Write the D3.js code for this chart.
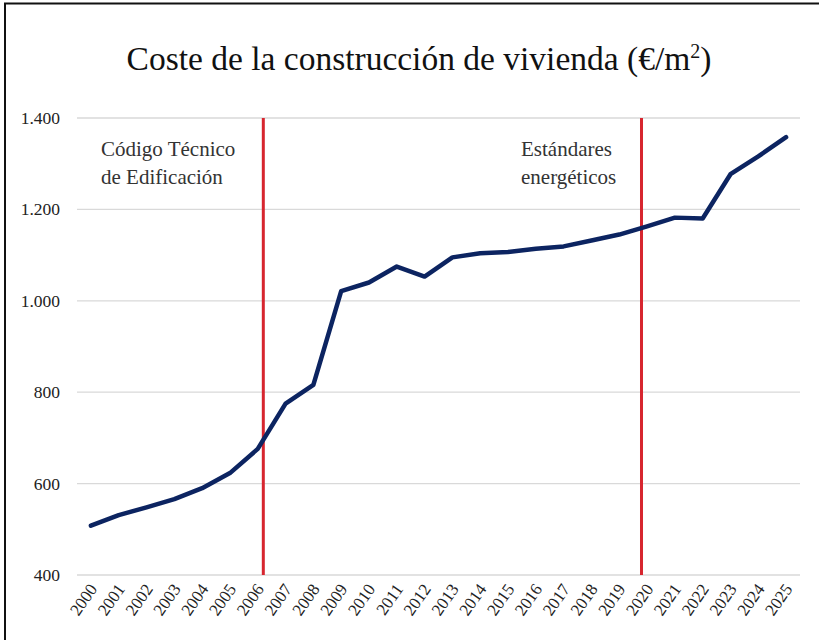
<!DOCTYPE html>
<html><head><meta charset="utf-8">
<script src="https://cdn.jsdelivr.net/npm/d3@7"></script>
<style>body{margin:0;background:#fff}svg{display:block}</style>
</head><body>
<svg id="c" width="819" height="640"></svg>
<script>
const years = ["2000","2001","2002","2003","2004","2005","2006","2007","2008","2009","2010","2011","2012","2013","2014","2015","2016","2017","2018","2019","2020","2021","2022","2023","2024","2025"];
const costs = [508,531,548,566,590,623,676,775,816,1021,1040,1075,1053,1095,1104,1107,1114,1119,1132,1145,1163,1182,1180,1277,1316,1358];
const yTicks = [400,600,800,1000,1200,1400];
const markers = [{pos:6.2, label:["Código Técnico","de Edificación"]},{pos:19.8, label:["Estándares","energéticos"]}];
const title = "Coste de la construcción de vivienda (€/m";

const svg = d3.select("#c");
const font = "'Liberation Serif', 'DejaVu Serif', serif";
const L = 77, R = 800, T = 118, B = 575;

svg.append("rect").attr("x",5).attr("y",3.5).attr("width",900).attr("height",700)
  .attr("fill","none").attr("stroke","#111").attr("stroke-width",2);

const x = d3.scaleBand().domain(years).range([L,R]);
const y = d3.scaleLinear().domain([400,1400]).range([B,T]);
const xc = i => L + (i + 0.5) * x.step();

// gridlines
svg.append("g").selectAll("line").data(yTicks).join("line")
  .attr("x1",L).attr("x2",R).attr("y1",d=>y(d)).attr("y2",d=>y(d))
  .attr("stroke","#d9d9d9").attr("stroke-width",1.3);

// y labels
const fmt = d3.formatLocale({decimal:",",thousands:".",grouping:[3],currency:["","€"]}).format(",");
svg.append("g").selectAll("text").data(yTicks).join("text")
  .attr("x",60).attr("y",d=>y(d)+6).attr("text-anchor","end")
  .attr("font-family",font).attr("font-size",17.5).attr("fill","#222")
  .text(d=>fmt(d));

// x labels
svg.append("g").selectAll("text").data(years).join("text")
  .attr("transform",(d,i)=>`translate(${xc(i)+7},${B+14}) rotate(-55)`)
  .attr("text-anchor","end").attr("font-family",font).attr("font-size",17).attr("fill","#222")
  .text(d=>d);

// red markers
svg.append("g").selectAll("line").data(markers).join("line")
  .attr("x1",d=>xc(d.pos)).attr("x2",d=>xc(d.pos)).attr("y1",T).attr("y2",B)
  .attr("stroke","#d7262f").attr("stroke-width",3);

// annotations
const ann = svg.append("g").selectAll("text").data(markers).join("text")
  .attr("font-family",font).attr("font-size",21).attr("fill","#333")
  .attr("text-anchor","start")
  .attr("x",(d,i)=> i===0 ? 101 : 521);
ann.each(function(d){
  d3.select(this).selectAll("tspan").data(d.label).join("tspan")
    .attr("x",d3.select(this).attr("x")).attr("y",(t,j)=>156+j*28).text(t=>t);
});

// line
svg.append("path").datum(costs)
  .attr("d",d3.line().x((d,i)=>xc(i)).y(d=>y(d)))
  .attr("fill","none").attr("stroke","#0c2461").attr("stroke-width",4.5)
  .attr("stroke-linejoin","round").attr("stroke-linecap","round");

// title
const t = svg.append("text").attr("x",419).attr("y",70).attr("text-anchor","middle")
  .attr("font-family",font).attr("font-size",33.5).attr("fill","#111");
t.append("tspan").text(title);
t.append("tspan").attr("dy",-12).attr("font-size",20).text("2");
t.append("tspan").attr("dy",12).text(")");
</script>
</body></html>
